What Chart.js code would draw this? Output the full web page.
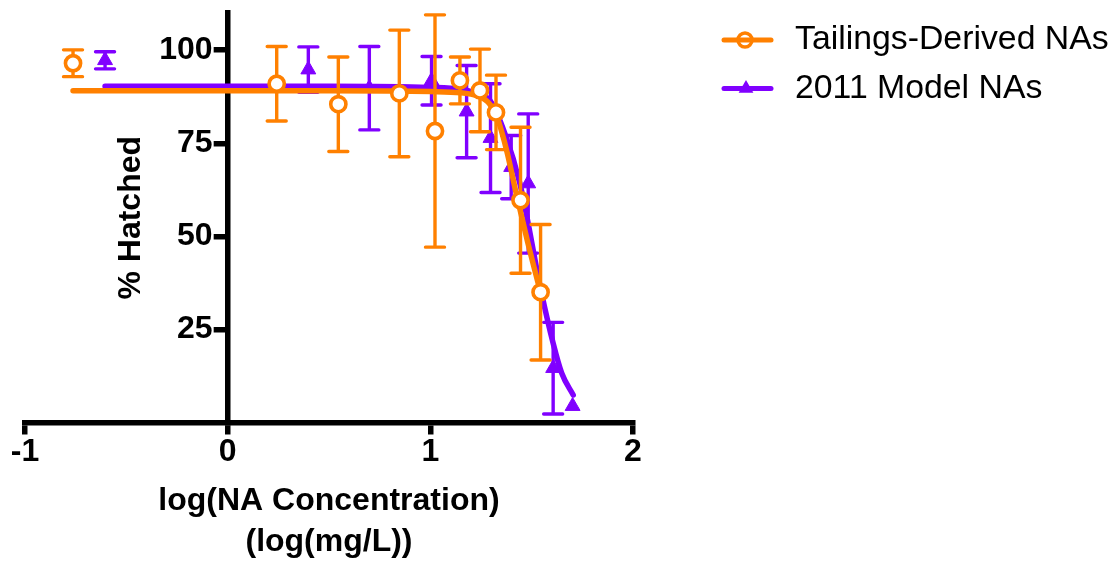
<!DOCTYPE html>
<html><head><meta charset="utf-8">
<script src="https://cdn.jsdelivr.net/npm/chart.js@4/dist/chart.umd.min.js"></script>
<style>html,body{margin:0;padding:0;background:#fff}canvas{display:block}</style>
</head><body>
<canvas id="c" width="1114" height="561"></canvas>
<script>
// ---- data ----
const xTicks = [-1, 0, 1, 2];
const yTicks = [25, 50, 75, 100];
const seriesNames = ['Tailings-Derived NAs', '2011 Model NAs'];
const xTitle = ['log(NA Concentration)', '(log(mg/L))'];
const yTitle = '% Hatched';

const tailingsX   = [-0.763, 0.242, 0.546, 0.847, 1.023, 1.146, 1.245, 1.324, 1.445, 1.544];
const tailingsY   = [96.5, 91.0, 85.5, 88.4, 78.3, 91.9, 89.2, 83.3, 59.7, 35.0];
const tailingsErr = [3.6, 10.0, 12.7, 17.0, 31.2, 6.3, 11.1, 10.0, 19.6, 18.2];

const modelX   = [-0.605, 0.398, 0.699, 1.006, 1.179, 1.297, 1.399, 1.483, 1.606, 1.702];
const modelY   = [97.3, 94.8, 89.8, 91.8, 83.5, 76.4, 68.6, 64.2, 14.6, 4.4];
const modelErr = [2.3, 6.1, 11.2, 6.5, 12.4, 14.6, 8.5, 18.7, 12.3, 0];

// fitted curves, points
const tailingsFitX = [-0.763, 0.5, 1.0, 1.15, 1.2, 1.245, 1.28, 1.30, 1.324, 1.35, 1.38, 1.426, 1.48, 1.541];
const tailingsFitY = [89.1, 89.1, 88.9, 88.6, 88.2, 87.5, 86.3, 85.0, 82.8, 78.5, 72.3, 61.0, 48.5, 35.5];
const modelFitX = [-0.605, 0.5, 1.0, 1.15, 1.22, 1.294, 1.368, 1.442, 1.549, 1.606, 1.648, 1.705];
const modelFitY = [90.3, 90.3, 90.0, 89.5, 88.5, 86.5, 77.6, 64.2, 34.7, 21.3, 13.3, 7.4];

// ---- styling ----
const ORANGE = '#FF8000';
const PURPLE = '#8000FF';
const FONT = "'Liberation Sans', Arial, Helvetica, sans-serif";
Chart.defaults.font.family = FONT;
Chart.defaults.color = '#000';

const pts = (xs, ys) => xs.map((x, i) => ({x: x, y: ys[i]}));

const errorBarPlugin = {
  id: 'errorBars',
  beforeDatasetDraw(chart, args) {
    const ds = chart.data.datasets[args.index];
    if (!ds.errors) return;
    const ctx = chart.ctx, xs = chart.scales.x, ys = chart.scales.y;
    ctx.save();
    ctx.strokeStyle = ds.borderColor;
    ctx.lineWidth = 3.4;
    ctx.lineCap = 'round';
    const half = 9.5;
    ds.data.forEach((p, i) => {
      const e = ds.errors[i];
      if (!e) return;
      const px = xs.getPixelForValue(p.x);
      const yt = ys.getPixelForValue(p.y + e);
      const yb = ys.getPixelForValue(p.y - e);
      ctx.beginPath();
      ctx.moveTo(px, yt); ctx.lineTo(px, yb);
      ctx.moveTo(px - half, yt); ctx.lineTo(px + half, yt);
      ctx.moveTo(px - half, yb); ctx.lineTo(px + half, yb);
      ctx.stroke();
    });
    ctx.restore();
  }
};

// move the y axis so that it crosses the x axis at x = 0
const yAxisAtZero = {
  id: 'yAxisAtZero',
  afterLayout(chart) {
    const xs = chart.scales.x, ys = chart.scales.y;
    const p0 = xs.getPixelForValue(0);
    ys.right = p0;
    ys.left = p0 - 116;
    ys.width = ys.right - ys.left;
  }
};

const sideLegend = {
  id: 'sideLegend',
  afterDraw(chart) {
    const ctx = chart.ctx;
    const rows = [
      {label: seriesNames[0], color: ORANGE, style: 'circle', y: 40},
      {label: seriesNames[1], color: PURPLE, style: 'triangle', y: 88.5}
    ];
    rows.forEach(r => {
      ctx.save();
      ctx.strokeStyle = r.color;
      ctx.fillStyle = r.color;
      ctx.lineWidth = 5;
      ctx.lineCap = 'round';
      ctx.beginPath();
      ctx.moveTo(724, r.y); ctx.lineTo(771, r.y);
      ctx.stroke();
      if (r.style === 'circle') {
        ctx.lineWidth = 3.5;
        ctx.beginPath();
        ctx.arc(745, r.y, 7, 0, Math.PI * 2);
        ctx.stroke();
      } else {
        Chart.helpers.drawPoint(ctx, {pointStyle: 'triangle', radius: 8.5, borderWidth: 0, rotation: 0}, 746, r.y);
      }
      ctx.fillStyle = '#000';
      ctx.font = "33.8px " + FONT;
      ctx.textBaseline = 'middle';
      ctx.textAlign = 'left';
      ctx.fillText(r.label, 795, r.y);
      ctx.restore();
    });
  }
};

new Chart(document.getElementById('c'), {
  type: 'scatter',
  data: {
    datasets: [
      {
        label: seriesNames[0], data: pts(tailingsX, tailingsY), errors: tailingsErr,
        order: 0, pointStyle: 'circle', pointRadius: 7.6, pointBorderWidth: 3.6,
        borderColor: ORANGE, backgroundColor: '#fff', showLine: false
      },
      {
        label: seriesNames[0] + ' fit', data: pts(tailingsFitX, tailingsFitY),
        order: 1, showLine: true, pointRadius: 0, borderColor: ORANGE, borderWidth: 5.5,
        cubicInterpolationMode: 'monotone', borderCapStyle: 'round'
      },
      {
        label: seriesNames[1], data: pts(modelX, modelY), errors: modelErr,
        order: 2, pointStyle: 'triangle', pointRadius: 8.6, pointBorderWidth: 1,
        borderColor: PURPLE, backgroundColor: PURPLE, showLine: false
      },
      {
        label: seriesNames[1] + ' fit', data: pts(modelFitX, modelFitY),
        order: 3, showLine: true, pointRadius: 0, borderColor: PURPLE, borderWidth: 5.5,
        cubicInterpolationMode: 'monotone', borderCapStyle: 'round'
      }
    ]
  },
  options: {
    responsive: false,
    devicePixelRatio: 1,
    animation: false,
    events: [],
    layout: {padding: {left: 25, right: 481, top: 13, bottom: 0}},
    plugins: {legend: {display: false}, tooltip: {enabled: false}},
    scales: {
      x: {
        type: 'linear', position: 'bottom', min: -1, max: 2,
        afterBuildTicks: s => { s.ticks = xTicks.map(v => ({value: v})); },
        afterFit: s => { s.height = 138.5; s.paddingLeft = 0; s.paddingRight = 0; },
        grid: {drawOnChartArea: false, drawTicks: true, tickLength: 12, lineWidth: 5.5, color: '#000'},
        border: {display: true, width: 5.5, color: '#000'},
        ticks: {font: {size: 32, weight: 'bold', lineHeight: 1.1}, padding: 0, color: '#000',
                maxRotation: 0, autoSkip: false, callback: v => String(v)},
        title: {display: true, text: xTitle, color: '#000',
                font: {size: 32, weight: 'bold', lineHeight: 1.28}, padding: {top: 0, bottom: -2}}
      },
      y: {
        type: 'linear', position: 'left', min: 0, max: 110,
        afterBuildTicks: s => { s.ticks = yTicks.map(v => ({value: v})); },
        afterFit: s => { s.width = 0; s.paddingTop = 0; s.paddingBottom = 0; },
        grid: {drawOnChartArea: false, drawTicks: true, tickLength: 14, lineWidth: 5.5, color: '#000'},
        border: {display: true, width: 5.5, color: '#000'},
        ticks: {font: {size: 32, weight: 'bold'}, padding: 1, color: '#000', callback: v => String(v)},
        title: {display: true, text: yTitle, color: '#000',
                font: {size: 32, weight: 'bold', lineHeight: 1.2}, padding: 0}
      }
    }
  },
  plugins: [errorBarPlugin, yAxisAtZero, sideLegend]
});
</script>
</body></html>
